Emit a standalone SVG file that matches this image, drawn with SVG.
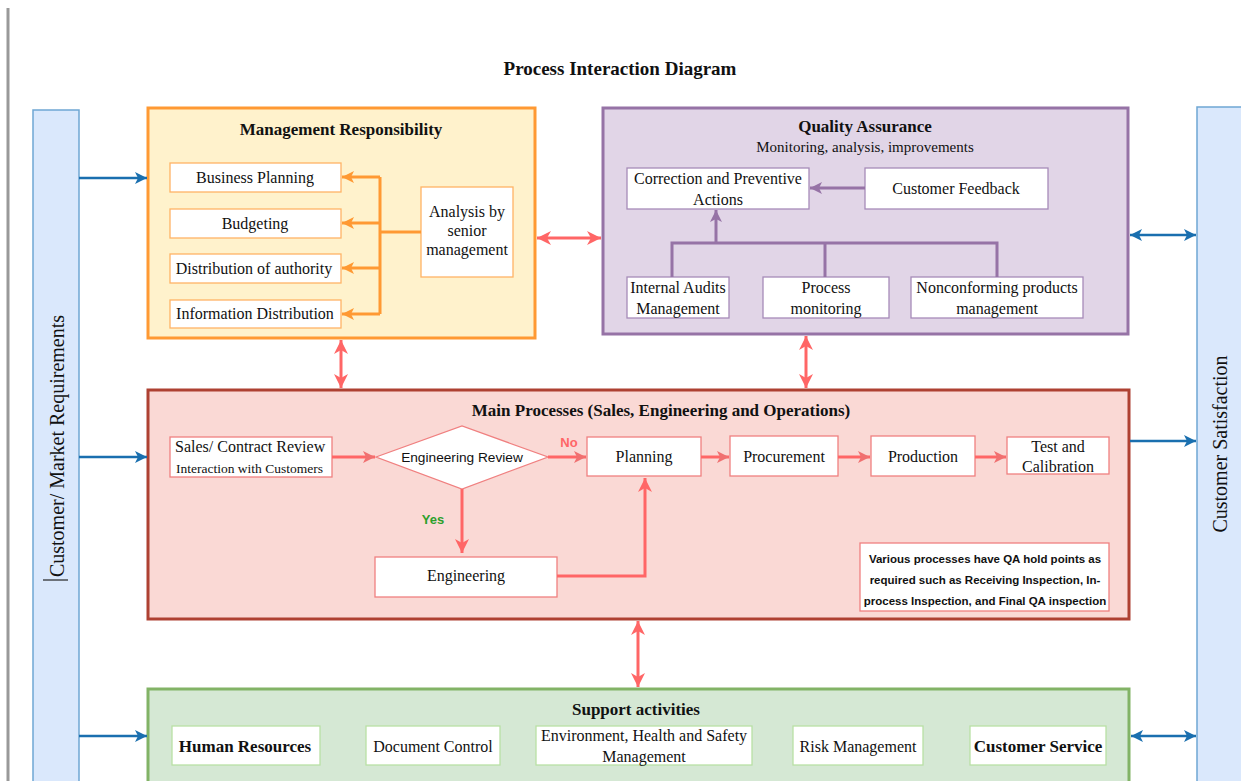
<svg xmlns="http://www.w3.org/2000/svg" width="1241" height="781" viewBox="0 0 1241 781">
<defs>
<style>
.serif{font-family:"Liberation Serif","Times New Roman",serif;fill:#111}
.sans{font-family:"Liberation Sans",Arial,sans-serif;fill:#111}
.ttl{font-weight:bold;font-size:17px}
.t15{font-size:16px}
.t14{font-size:15px}
.mrbox{fill:#fff;stroke:#ffb366;stroke-width:1.3}
.qabox{fill:#fff;stroke:#a68bb8;stroke-width:1.3}
.mpbox{fill:#fff;stroke:#f08080;stroke-width:1.3}
.sabox{fill:#fff;stroke:#b9e0a5;stroke-width:1.3}
.or{stroke:#ff9933;stroke-width:3;fill:none}
.pu{stroke:#9673a6;stroke-width:3;fill:none}
.rd{stroke:#ff6666;stroke-width:3;fill:none}
.bl{stroke:#1a6faf;stroke-width:2.5;fill:none}
</style>
<marker id="aOr" markerUnits="userSpaceOnUse" markerWidth="14" markerHeight="14" refX="12" refY="6" orient="auto"><path d="M0,0 L12,6 L0,12 L3,6 z" fill="#ff9933"/></marker>
<marker id="aPu" markerUnits="userSpaceOnUse" markerWidth="14" markerHeight="14" refX="12" refY="6" orient="auto"><path d="M0,0 L12,6 L0,12 L3,6 z" fill="#9673a6"/></marker>
<marker id="aRd" markerUnits="userSpaceOnUse" markerWidth="16" markerHeight="16" refX="14" refY="7" orient="auto-start-reverse"><path d="M0,0 L14,7 L0,14 L4,7 z" fill="#ff6666"/></marker>
<marker id="aRs" markerUnits="userSpaceOnUse" markerWidth="14" markerHeight="14" refX="12" refY="6" orient="auto"><path d="M0,0 L12,6 L0,12 L3,6 z" fill="#f07070"/></marker>
<marker id="aBl" markerUnits="userSpaceOnUse" markerWidth="14" markerHeight="14" refX="12" refY="6" orient="auto-start-reverse"><path d="M0,0 L12,6 L0,12 L3,6 z" fill="#1a6faf"/></marker>
</defs>
<rect x="0" y="0" width="1241" height="781" fill="#fff"/>
<line x1="8" y1="8" x2="8" y2="781" stroke="#999" stroke-width="3"/>

<text class="serif" x="620" y="75" text-anchor="middle" font-weight="bold" font-size="19">Process Interaction Diagram</text>

<g id="customer-requirements">
<rect x="33" y="110" width="46" height="680" fill="#dae8fc" stroke="#6fa7d3" stroke-width="1.5"/>
<text class="serif" transform="translate(64,446) rotate(-90)" text-anchor="middle" font-size="20">Customer/ Market Requirements</text>
<line x1="43" y1="580" x2="68" y2="580" stroke="#222" stroke-width="1.2"/>
</g>

<g id="customer-satisfaction">
<rect x="1197" y="107" width="50" height="690" fill="#dae8fc" stroke="#6fa7d3" stroke-width="1.5"/>
<text class="serif" transform="translate(1227,444) rotate(-90)" text-anchor="middle" font-size="20">Customer Satisfaction</text>
</g>

<g id="management-responsibility">
<rect x="148" y="108" width="387" height="230" fill="#fff2cc" stroke="#ff9933" stroke-width="3"/>
<text class="serif ttl" x="341" y="135" text-anchor="middle">Management Responsibility</text>
<g id="business-planning"><rect class="mrbox" x="170" y="163" width="171" height="29"/><text class="serif t15" x="255" y="183" text-anchor="middle">Business Planning</text></g>
<g id="budgeting"><rect class="mrbox" x="170" y="209" width="171" height="29"/><text class="serif t15" x="255" y="229" text-anchor="middle">Budgeting</text></g>
<g id="distribution-authority"><rect class="mrbox" x="170" y="254" width="171" height="29"/><text class="serif t15" x="254" y="274" text-anchor="middle">Distribution of authority</text></g>
<g id="information-distribution"><rect class="mrbox" x="170" y="300" width="171" height="28"/><text class="serif t15" x="255" y="319" text-anchor="middle">Information Distribution</text></g>
<g id="analysis"><rect class="mrbox" x="421" y="187" width="92" height="90"/>
<text class="serif t15" x="467" y="217" text-anchor="middle">Analysis by</text>
<text class="serif t15" x="467" y="236" text-anchor="middle">senior</text>
<text class="serif t15" x="467" y="255" text-anchor="middle">management</text></g>
</g>

<g id="quality-assurance">
<rect x="603" y="108" width="525" height="226" fill="#e1d5e7" stroke="#9673a6" stroke-width="3"/>
<text class="serif ttl" x="865" y="132" text-anchor="middle">Quality Assurance</text>
<text class="serif t14" x="865" y="152" text-anchor="middle">Monitoring, analysis, improvements</text>
<g id="capa"><rect class="qabox" x="627" y="168" width="182" height="41"/>
<text class="serif t15" x="718" y="184" text-anchor="middle">Correction and Preventive</text>
<text class="serif t15" x="718" y="205" text-anchor="middle">Actions</text></g>
<g id="customer-feedback"><rect class="qabox" x="865" y="168" width="183" height="41"/>
<text class="serif t15" x="956" y="194" text-anchor="middle">Customer Feedback</text></g>
<g id="internal-audits"><rect class="qabox" x="627" y="277" width="102" height="41"/>
<text class="serif t15" x="678" y="293" text-anchor="middle">Internal Audits</text>
<text class="serif t15" x="678" y="314" text-anchor="middle">Management</text></g>
<g id="process-monitoring"><rect class="qabox" x="763" y="277" width="126" height="41"/>
<text class="serif t15" x="826" y="293" text-anchor="middle">Process</text>
<text class="serif t15" x="826" y="314" text-anchor="middle">monitoring</text></g>
<g id="nonconforming"><rect class="qabox" x="911" y="277" width="172" height="41"/>
<text class="serif t15" x="997" y="293" text-anchor="middle">Nonconforming products</text>
<text class="serif t15" x="997" y="314" text-anchor="middle">management</text></g>
</g>

<g id="main-processes">
<rect x="148" y="390" width="981" height="229" fill="#fad9d5" stroke="#ae4132" stroke-width="3"/>
<text class="serif ttl" x="661" y="416" text-anchor="middle">Main Processes (Sales, Engineering and Operations)</text>
<g id="sales"><rect class="mpbox" x="170" y="437" width="162" height="40"/>
<text class="serif t15" x="175" y="452">Sales/ Contract Review</text>
<text class="serif" x="176" y="473" font-size="13.5">Interaction with Customers</text></g>
<g id="engineering-review"><polygon points="376,457 462,426 548,457 462,489" fill="#fff" stroke="#f08080" stroke-width="1.3"/>
<text class="sans" x="462" y="462" text-anchor="middle" font-size="13.7">Engineering Review</text></g>
<g id="planning"><rect class="mpbox" x="587" y="437" width="114" height="39"/><text class="serif t15" x="644" y="462" text-anchor="middle">Planning</text></g>
<g id="procurement"><rect class="mpbox" x="730" y="436" width="108" height="40"/><text class="serif t15" x="784" y="462" text-anchor="middle">Procurement</text></g>
<g id="production"><rect class="mpbox" x="871" y="436" width="104" height="40"/><text class="serif t15" x="923" y="462" text-anchor="middle">Production</text></g>
<g id="test-calibration"><rect class="mpbox" x="1007" y="437" width="102" height="37"/>
<text class="serif t15" x="1058" y="452" text-anchor="middle">Test and</text>
<text class="serif t15" x="1058" y="472" text-anchor="middle">Calibration</text></g>
<g id="engineering"><rect class="mpbox" x="375" y="557" width="182" height="40"/><text class="serif t15" x="466" y="581" text-anchor="middle">Engineering</text></g>
<g id="qa-note"><rect class="mpbox" x="860" y="543" width="249" height="68"/>
<text class="sans" x="985" y="563" text-anchor="middle" font-size="11.5" font-weight="bold">Various processes have QA hold points as</text>
<text class="sans" x="985" y="584" text-anchor="middle" font-size="11.5" font-weight="bold">required such as Receiving Inspection, In-</text>
<text class="sans" x="985" y="605" text-anchor="middle" font-size="11.5" font-weight="bold">process Inspection, and Final QA inspection</text></g>
</g>

<g id="support-activities">
<rect x="148" y="689" width="981" height="110" fill="#d5e8d4" stroke="#82b366" stroke-width="3"/>
<text class="serif ttl" x="636" y="715" text-anchor="middle">Support activities</text>
<g id="human-resources"><rect class="sabox" x="172" y="726" width="148" height="39"/><text class="serif" x="245" y="752" text-anchor="middle" font-weight="bold" font-size="17">Human Resources</text></g>
<g id="document-control"><rect class="sabox" x="366" y="726" width="134" height="39"/><text class="serif t15" x="433" y="752" text-anchor="middle">Document Control</text></g>
<g id="ehs"><rect class="sabox" x="536" y="726" width="216" height="39"/>
<text class="serif t15" x="644" y="741" text-anchor="middle">Environment, Health and Safety</text>
<text class="serif t15" x="644" y="762" text-anchor="middle">Management</text></g>
<g id="risk-management"><rect class="sabox" x="793" y="726" width="130" height="39"/><text class="serif t15" x="858" y="752" text-anchor="middle">Risk Management</text></g>
<g id="customer-service"><rect class="sabox" x="970" y="726" width="136" height="39"/><text class="serif" x="1038" y="752" text-anchor="middle" font-weight="bold" font-size="17">Customer Service</text></g>
</g>

<g id="connectors">
<path class="or" d="M421,232 H380"/>
<path class="or" d="M380,177 V314"/>
<path class="or" d="M380,177 H342" marker-end="url(#aOr)"/>
<path class="or" d="M380,223 H342" marker-end="url(#aOr)"/>
<path class="or" d="M380,268 H342" marker-end="url(#aOr)"/>
<path class="or" d="M380,314 H342" marker-end="url(#aOr)"/>
<path class="pu" d="M865,188 H810" marker-end="url(#aPu)"/>
<path class="pu" d="M672,277 V243 H997 V277"/>
<path class="pu" d="M825,243 V277"/>
<path class="pu" d="M716,243 V210" marker-end="url(#aPu)"/>
<path class="rd" d="M537,238 H601" marker-start="url(#aRd)" marker-end="url(#aRd)"/>
<path class="rd" d="M341,340 V388" marker-start="url(#aRd)" marker-end="url(#aRd)"/>
<path class="rd" d="M806,336 V388" marker-start="url(#aRd)" marker-end="url(#aRd)"/>
<path class="rd" d="M638,621 V687" marker-start="url(#aRd)" marker-end="url(#aRd)"/>
<path class="rd" d="M332,457 H375" marker-end="url(#aRs)" stroke="#f07070"/>
<path class="rd" d="M548,457 H586" marker-end="url(#aRs)" stroke="#f07070"/>
<path class="rd" d="M701,457 H729" marker-end="url(#aRs)" stroke="#f07070"/>
<path class="rd" d="M838,457 H870" marker-end="url(#aRs)" stroke="#f07070"/>
<path class="rd" d="M975,457 H1006" marker-end="url(#aRs)" stroke="#f07070"/>
<path class="rd" d="M462,489 V553" stroke-width="4" marker-end="url(#aRd)"/>
<path class="rd" d="M557,576 H645 V478" stroke-width="4" marker-end="url(#aRd)"/>
<text class="sans" x="569" y="447" text-anchor="middle" font-size="13" font-weight="bold" style="fill:#ff6666">No</text>
<text class="sans" x="433" y="524" text-anchor="middle" font-size="13" font-weight="bold" style="fill:#2ca02c">Yes</text>
<path class="bl" d="M79,178 H147" marker-end="url(#aBl)"/>
<path class="bl" d="M79,457 H147" marker-end="url(#aBl)"/>
<path class="bl" d="M79,736 H147" marker-end="url(#aBl)"/>
<path class="bl" d="M1130,235 H1196" marker-start="url(#aBl)" marker-end="url(#aBl)"/>
<path class="bl" d="M1130,441 H1196" marker-end="url(#aBl)"/>
<path class="bl" d="M1131,736 H1196" marker-start="url(#aBl)" marker-end="url(#aBl)"/>
</g>
</svg>
